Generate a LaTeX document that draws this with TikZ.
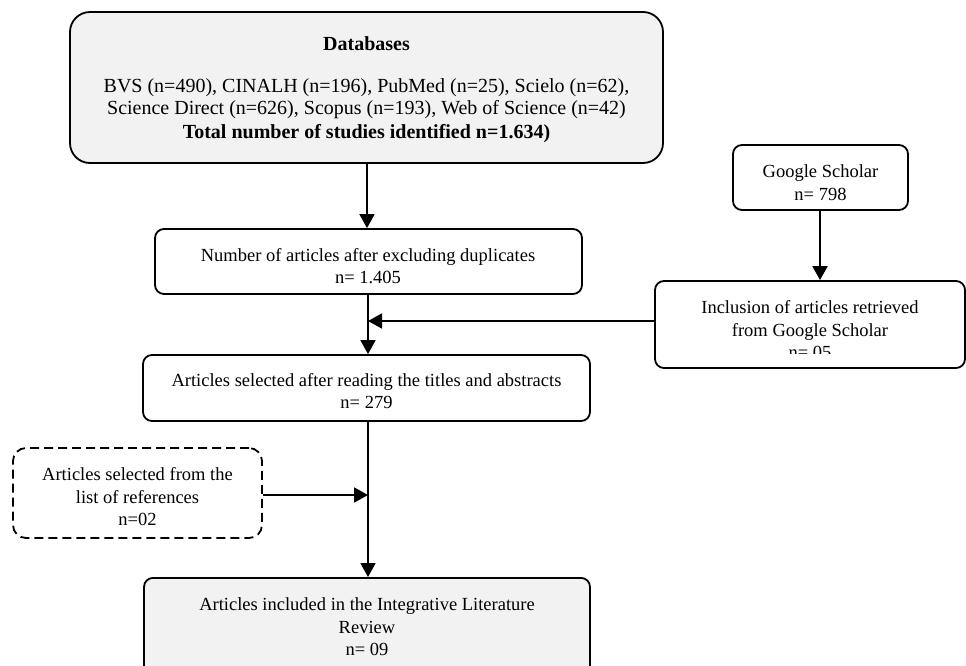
\documentclass[tikz,border=0pt]{standalone}
\usepackage{fontspec}
\setmainfont{Liberation Serif}
\usetikzlibrary{arrows.meta}
\definecolor{boxgray}{HTML}{F2F2F2}
\begin{document}
\begin{tikzpicture}[x=1pt,y=-1pt,
  txt/.style={align=center, font=\fontsize{18.5}{22.5}\selectfont, inner sep=0pt},
  dbtxt/.style={align=center, font=\fontsize{20}{22}\selectfont, inner sep=0pt},
  box/.style={draw, line width=1.8pt, rounded corners=9pt, inner sep=0pt},
  graybox/.style={box, fill=boxgray},
  dashbox/.style={box, dash pattern=on 9pt off 5pt, rounded corners=13pt},
  arr/.style={line width=1.8pt, -{Triangle[length=14pt,width=15pt]}},
]
\useasboundingbox (0,0) rectangle (966,665);

% Databases
\node[graybox, rounded corners=20pt, minimum width=593pt, minimum height=151pt] (db) at (366.5,87.5) {};
\node[dbtxt] (dbt) at (366.5,89.5) {\textbf{Databases}\\[20.5pt]
  BVS (n=490), CINALH (n=196), PubMed (n=25), Scielo (n=62),\\
  Science Direct (n=626), Scopus (n=193), Web of Science (n=42)\\[2pt]
  \textbf{Total number of studies identified n=1.634)}};

% main column
\node[box, minimum width=427pt, minimum height=65pt] (dup) at (368.5,261.5) {};
\node[txt] (dupt) at (368,266) {Number of articles after excluding duplicates\\ n= 1.405};
\node[box, minimum width=447pt, minimum height=66pt] (sel) at (366.5,388) {};
\node[txt] (selt) at (366.5,391) {Articles selected after reading the titles and abstracts\\ n= 279};
\node[graybox, minimum width=446pt, minimum height=104pt, anchor=north] (fin) at (367,577) {};
\node[txt] (fint) at (367,627) {Articles included in the Integrative Literature\\ Review\\ n= 09};

% Google Scholar
\node[box, minimum width=175pt, minimum height=65pt] (gs) at (820.5,177.5) {};
\node[txt] (gst) at (820.5,182.5) {Google Scholar\\ n= 798};
\node[box, minimum width=310pt, minimum height=87pt] (incl) at (810,324.5) {};
\begin{scope}
  \clip (640,270) rectangle (966,353);
  \node[txt] (inclt) at (810,330) {Inclusion of articles retrieved\\ from Google Scholar\\ n= 05};
\end{scope}

% references
\node[dashbox, minimum width=249pt, minimum height=90pt] (ref) at (137.5,493) {};
\node[txt] (reft) at (137.5,497) {Articles selected from the\\ list of references\\ n=02};

% connectors
\coordinate (m0) at (367,200);
\coordinate (m1) at (368,321);
\coordinate (m2) at (368,495);
\draw[arr] (db.south -| m0) -- (dup.north -| m0);
\draw[arr] (dup.south -| m1) -- (sel.north -| m1);
\draw[arr] (incl.west |- m1) -- (m1);
\draw[arr] (gs.south -| 820,0) -- (incl.north -| 820,0);
\draw[arr] (sel.south -| m1) -- (fin.north -| m1);
\draw[arr] (ref.east |- m2) -- (m2);
\end{tikzpicture}
\end{document}
